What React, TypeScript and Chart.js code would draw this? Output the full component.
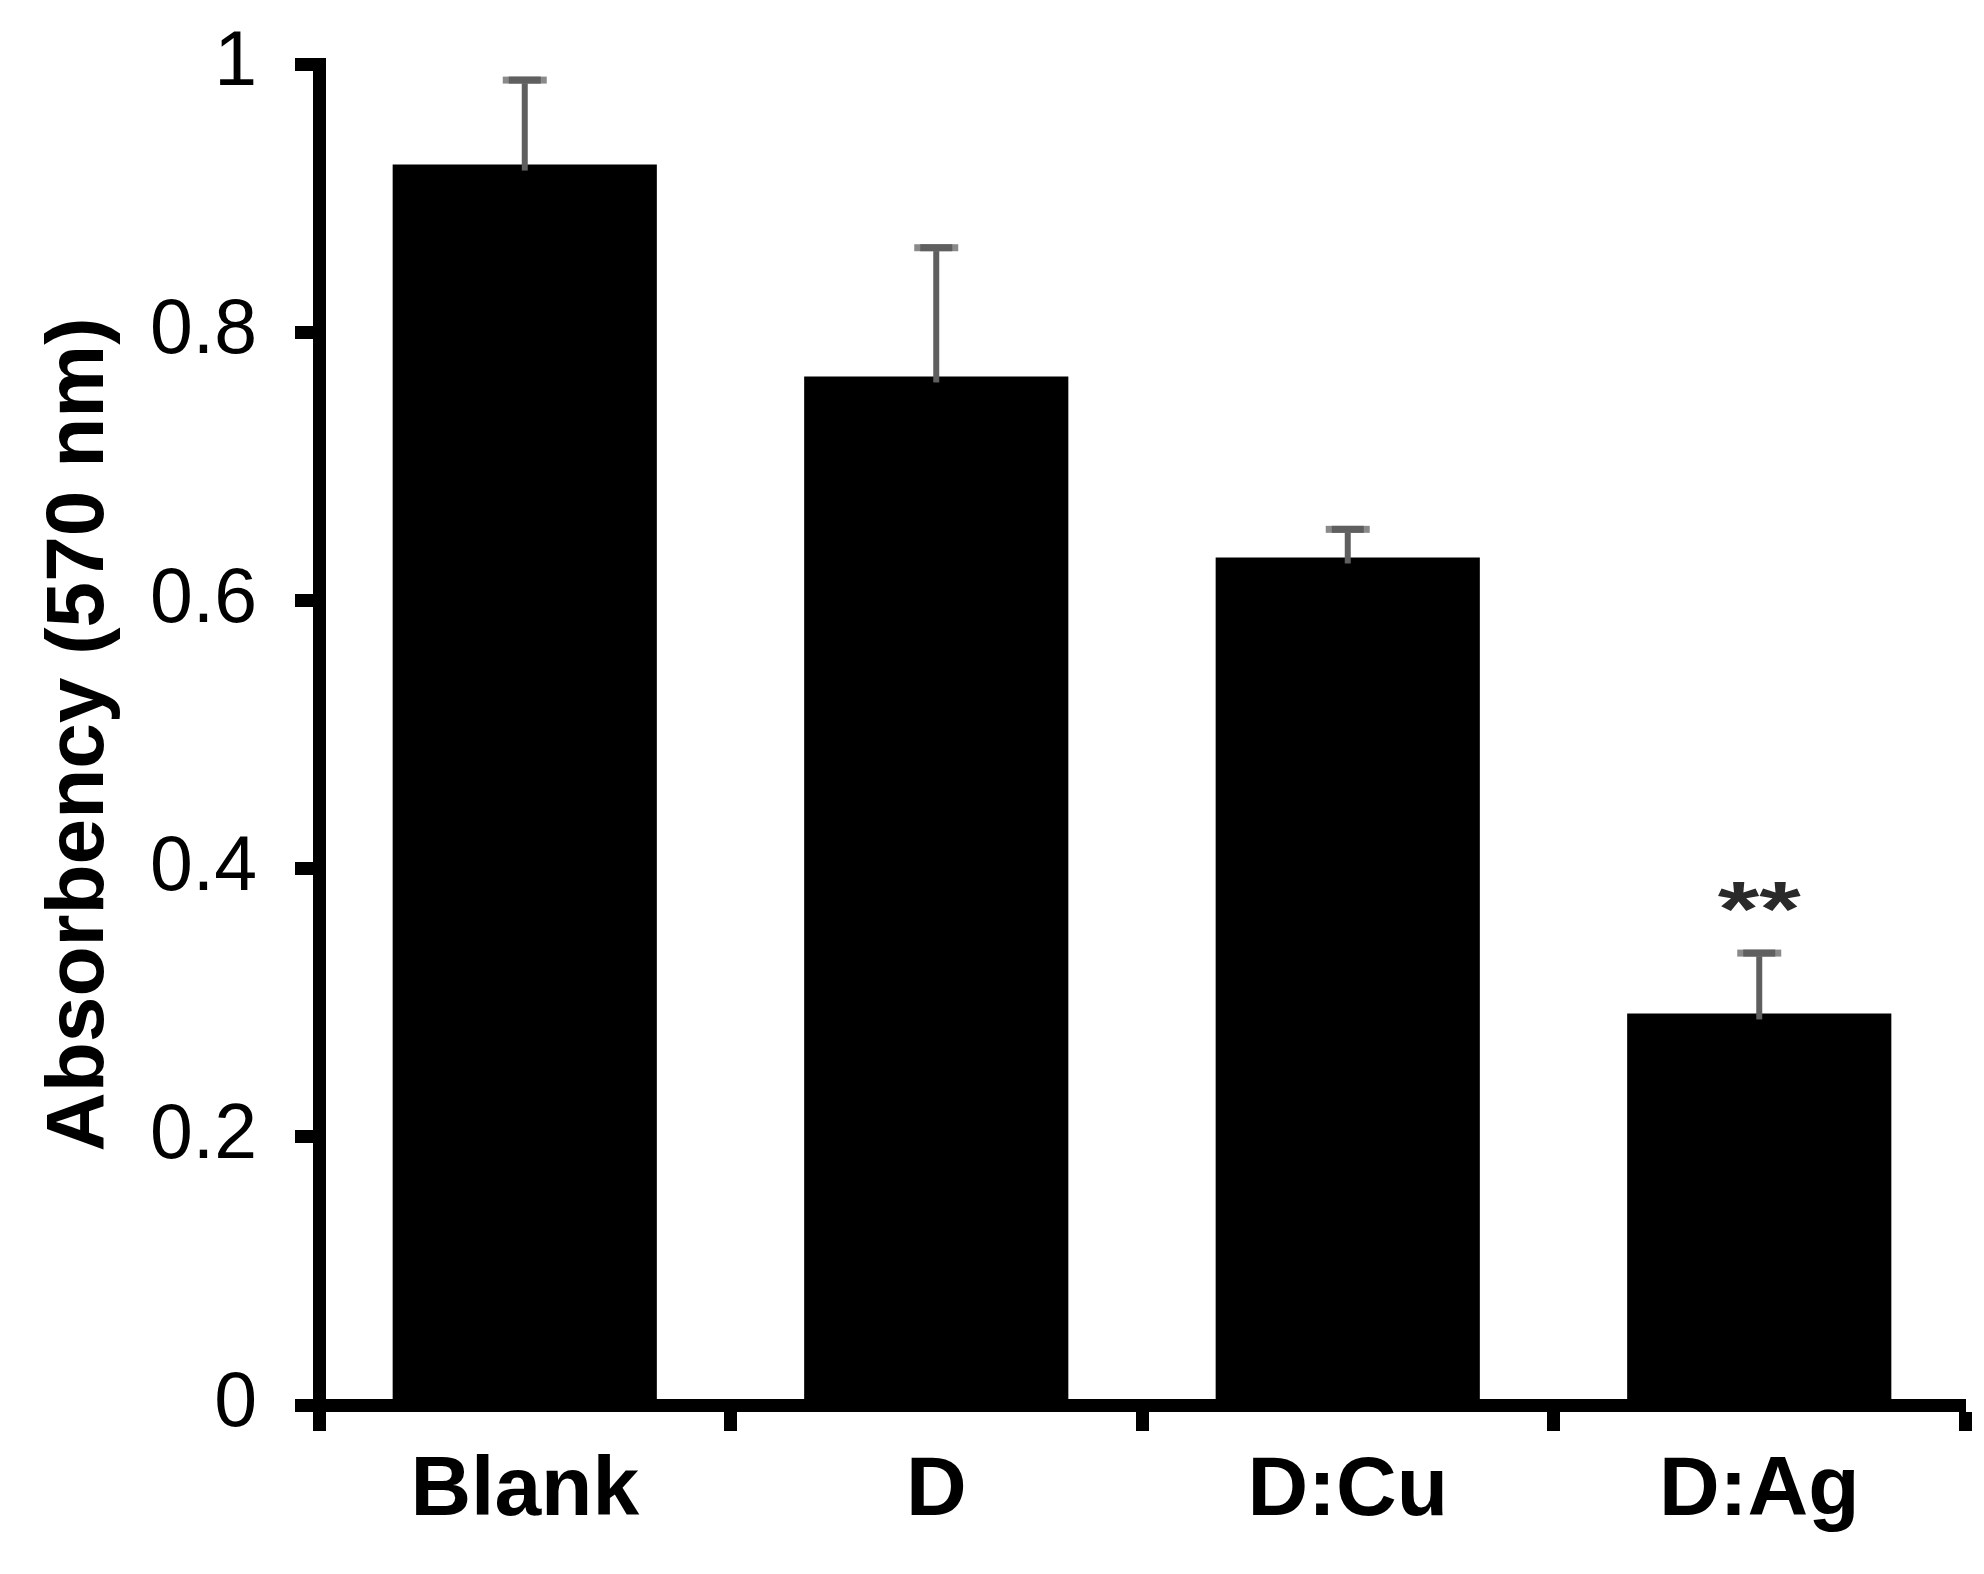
import React, { useEffect, useRef } from 'react';
import { Chart, registerables } from 'chart.js';

Chart.register(...registerables);

const categories = ['Blank', 'D', 'D:Cu', 'D:Ag'];
const absorbency = [0.925, 0.767, 0.632, 0.292];
const errorPlus = [0.063, 0.096, 0.021, 0.045];
const significance = ['', '', '', '**'];
const yTicks = [0, 0.2, 0.4, 0.6, 0.8, 1];
const yTickLabels = ['0', '0.2', '0.4', '0.6', '0.8', '1'];
const yTitle = 'Absorbency (570 nm)';

const FONT = "'Liberation Sans', Arial, sans-serif";

const errorBarPlugin = {
  id: 'errorBars',
  afterDatasetsDraw(chart: any) {
    const ctx = chart.ctx;
    const meta = chart.getDatasetMeta(0);
    const y = chart.scales.y;
    ctx.save();
    meta.data.forEach((bar: any, i: number) => {
      const x = bar.x;
      const top = y.getPixelForValue(absorbency[i]);
      const cap = y.getPixelForValue(absorbency[i] + errorPlus[i]);
      // stem
      ctx.fillStyle = '#5f5f5f';
      ctx.fillRect(x - 3, cap, 6, top - cap + 6);
      // cap
      ctx.fillStyle = '#8a8a8a';
      ctx.fillRect(x - 22, cap - 3.5, 44, 7);
      ctx.fillStyle = '#5f5f5f';
      ctx.fillRect(x - 16, cap - 3.5, 32, 7);
      if (significance[i]) {
        ctx.save();
        ctx.font = `bold 82px ${FONT}`;
        ctx.fillStyle = '#2a2a2a';
        ctx.textAlign = 'center';
        ctx.textBaseline = 'alphabetic';
        const m = ctx.measureText(significance[i]);
        const a = m.actualBoundingBoxAscent;
        const d = m.actualBoundingBoxDescent;
        const center = cap - 56;
        ctx.translate(x, center);
        ctx.scale(1.3, 0.95);
        ctx.fillText(significance[i], 0, -(d - a) / 2);
        ctx.restore();
      }
    });
    ctx.restore();
  },
};

export default function App() {
  const ref = useRef<HTMLCanvasElement | null>(null);
  useEffect(() => {
    document.body.style.margin = '0';
    const canvas = ref.current!;
    const chart = new Chart(canvas, {
      type: 'bar',
      data: {
        labels: categories,
        datasets: [
          {
            data: absorbency,
            backgroundColor: '#000',
            borderWidth: 0,
            barPercentage: 0.642,
            categoryPercentage: 1,
          },
        ],
      },
      options: {
        animation: false,
        responsive: false,
        devicePixelRatio: 1,
        layout: { padding: { left: 0, right: 19, top: 64, bottom: 0 } },
        plugins: { legend: { display: false }, tooltip: { enabled: false } },
        scales: {
          x: {
            offset: true,
            grid: {
              offset: true,
              drawOnChartArea: false,
              drawTicks: true,
              tickLength: 26,
              tickWidth: 13,
              tickColor: '#000',
              color: '#000',
            },
            border: { display: true, color: '#000', width: 13 },
            ticks: {
              font: { family: FONT, size: 84, weight: 'bold' },
              color: '#000',
              padding: 10,
              maxRotation: 0,
              autoSkip: false,
            },
            afterFit: (s: any) => {
              s.height = 169;
            },
          },
          y: {
            min: 0,
            max: 1,
            afterBuildTicks: (s: any) => {
              s.ticks = yTicks.map((v) => ({ value: v }));
            },
            ticks: {
              callback: (_v: any, i: number) => yTickLabels[i],
              font: { family: FONT, size: 77, lineHeight: 0.3 },
              color: '#000',
              padding: 38,
            },
            grid: {
              drawOnChartArea: false,
              tickLength: 24,
              tickWidth: 13,
              tickColor: '#000',
              color: '#000',
            },
            border: { display: true, color: '#000', width: 13 },
            title: {
              display: true,
              text: yTitle,
              font: { family: FONT, size: 82, weight: 'bold' },
              color: '#000',
              padding: { top: 31, bottom: 0 },
            },
            afterFit: (s: any) => {
              s.width = 319;
            },
          },
        },
      },
      plugins: [errorBarPlugin],
    } as any);
    return () => chart.destroy();
  }, []);
  return <canvas ref={ref} width={1984} height={1574} style={{ display: 'block' }} />;
}
